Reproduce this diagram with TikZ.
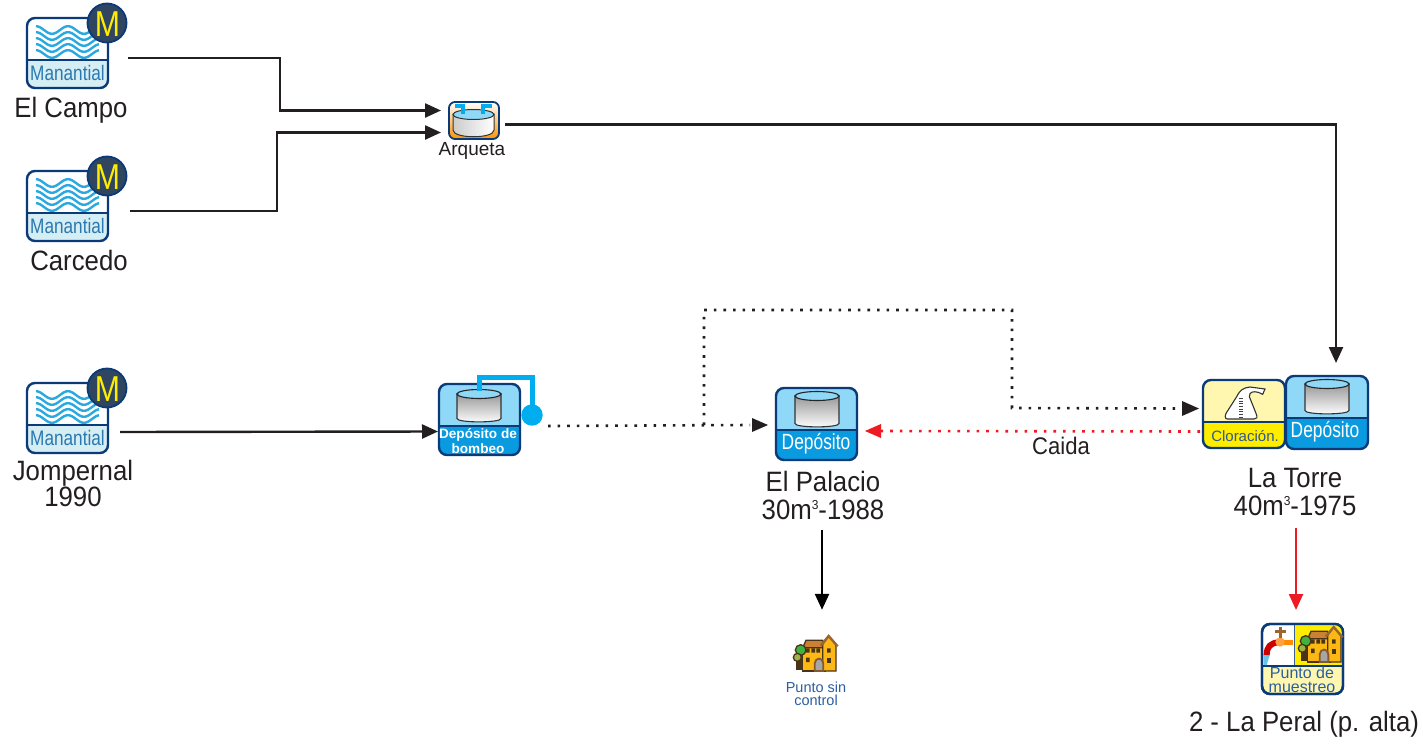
\documentclass[tikz,border=0pt]{standalone}
\usepackage{fontspec}
\usepackage{graphicx}
\setmainfont{Liberation Sans}
\newfontfamily\nf[FakeStretch=0.92]{Liberation Sans}
\usetikzlibrary{arrows.meta}
\definecolor{navy}{HTML}{0B3A78}
\definecolor{wave}{HTML}{2AA9E0}
\definecolor{lowcyan}{HTML}{D5EEF3}
\definecolor{manblue}{HTML}{2B78B0}
\definecolor{skyb}{HTML}{8FD8F8}
\definecolor{depb}{HTML}{0A9ADF}
\definecolor{pipe}{HTML}{00AEEF}
\definecolor{txt}{HTML}{231F20}
\definecolor{redl}{HTML}{ED1C24}
\definecolor{ptblue}{HTML}{2B5FA0}
\definecolor{clortop}{HTML}{FFF7B0}
\definecolor{clorbot}{HTML}{FFED00}
\definecolor{houseyel}{HTML}{FDB813}
\definecolor{houseline}{HTML}{4A3418}
\definecolor{mdisc}{HTML}{2F4560}
\newcommand{\fs}[1]{\fontsize{#1}{#1}\selectfont}
\newcommand{\supthree}{\raisebox{10pt}{\fs{13}3}}
\tikzset{
  x=1pt,y=-1pt,
  conn/.style={line width=2.4pt,txt,-{Triangle[length=16pt,width=14pt]}},
  dotline/.style={line width=2.6pt,txt,dash pattern=on 2.6pt off 7pt},
  lbl/.style={text=txt,inner sep=0pt,align=center,font=\nf\fs{28}},
  iconb/.style={draw=navy,line width=2.4pt,rounded corners=8pt,inner sep=0pt,outer sep=0pt},
}
% name x1 y1 x2 y2 divider topcolour bottomcolour
\newcommand{\iconbox}[8]{%
  \begin{scope}
    \clip[rounded corners=8pt] (#2,#3) rectangle (#4,#5);
    \fill[#7] (#2,#3) rectangle (#4,#6);
    \fill[#8] (#2,#6) rectangle (#4,#5);
  \end{scope}
  \draw[navy,line width=2pt] (#2,#6) -- (#4,#6);
  \node[iconb,minimum width={(#4-#2)*1pt},minimum height={(#5-#3)*1pt}] (#1) at ({(#2+#4)/2},{(#3+#5)/2}) {};
}
% cx top bottom rx ry
\newcommand{\cyl}[5]{%
  \path[draw=black!80,line width=1.1pt,top color=black!40,bottom color=white]
    (#1-#4,#2) -- (#1-#4,#3-#5) .. controls (#1-#4,#3) and (#1+#4,#3) .. (#1+#4,#3-#5) -- (#1+#4,#2) -- cycle;
  \draw[black!85,line width=1.1pt,fill=skyb] (#1,#2) ellipse [x radius=#4,y radius=#5];
}
\newcommand{\manantial}[2]{%
  \begin{scope}[shift={(0,#2)}]
    \iconbox{#1}{27}{18}{108}{88}{60}{white}{lowcyan}
    \foreach \yy in {30,36,42,48,54}
      \draw[wave,line width=2.4pt] plot[domain=36:99,samples=50,smooth] (\x,{\yy-3.8*sin((\x-28)*11.25)});
    \node[inner sep=0pt,text=manblue] at (67.5,72.5) {\fs{21}\scalebox{0.82}[1]{Manantial}};
    \draw[navy,line width=1.8pt,fill=mdisc] (107,23) circle (19.5);
    \node[inner sep=0pt,text=clorbot] at (107.5,24) {\fs{36}\scalebox{0.84}[1]{M}};
  \end{scope}
}
% origin x, origin y, scale
\newcommand{\houseicon}[3]{%
  \begin{scope}[shift={(#1,#2)},scale=#3,line width=1.3pt,draw=houseline]
    \filldraw[fill=houseyel] (98,68) rectangle (165,138);
    \filldraw[fill=brown!80!orange] (98,68) -- (108,46) -- (158,46) -- (165,68) -- cycle;
    \filldraw[fill=houseyel] (158,138) -- (158,58) -- (176,33) -- (198,60) -- (198,138) -- cycle;
    \draw[brown!80!black,line width=2.4pt] (152,62) -- (176,33) -- (203,64);
    \fill[houseline] (108,70) rectangle (119,83) (124,70) rectangle (135,83) (139,70) rectangle (150,83) (108,98) rectangle (119,111) (171,70) rectangle (182,83);
    \fill[houseline] (171,98) rectangle (184,113);
    \filldraw[fill=black!35,draw=brown!70!black,line width=1.8pt] (134,138) -- (134,115) .. controls (136,96) and (158,96) .. (160,115) -- (160,138) -- cycle;
    \draw[houseline,line width=2.5pt] (92,85) -- (92,135) (82,105) -- (82,135);
    \filldraw[fill=green!60!black!75] (92,75) circle (16);
    \filldraw[fill=olive!70!green!70] (82,97) circle (12);
  \end{scope}
}
\begin{document}
\begin{tikzpicture}
\useasboundingbox (0,0) rectangle (1423,744);
\fill[white] (0,0) rectangle (1423,744);

% springs
\manantial{manA}{0}
\manantial{manB}{153}
\manantial{manC}{365}
\node[lbl] (labA) at (71,110) {El Campo};
\node[lbl] (labB) at (79,260) {Carcedo};
\node[lbl] (labC) at (73,483) {Jompernal\\[-2pt]1990};

% arqueta
\begin{scope}
  \clip[rounded corners=6pt] (449,102) rectangle (499,139);
  \shade[top color=white,bottom color=orange!85!yellow] (449,102) rectangle (499,139);
\end{scope}
\node[iconb,rounded corners=6pt,minimum width=50pt,minimum height=37pt,line width=1.8pt] (arq) at (474,120.5) {};
\draw[black!80,line width=1pt,left color=black!20,right color=white] (453,114) -- (453,130) .. controls (453,139) and (494,139) .. (494,130) -- (494,114) -- cycle;
\draw[black!80,line width=1pt,fill=skyb] (473.5,114.5) ellipse [x radius=20.5,y radius=5];
\draw[pipe,line width=3.2pt] (455,106) -- (463,106) -- (463,114) (492,106) -- (483,106) -- (483,114);
\node[inner sep=0pt,text=txt] (labArq) at (472,151) {\fs{19}Arqueta};

% pumping tank
\iconbox{bomb}{439}{384}{520}{455}{426}{skyb}{depb}
\cyl{479}{394}{423}{22}{4.5}
\draw[pipe,line width=5pt] (479.5,391) -- (479.5,377) -- (532,377) -- (532,410);
\fill[pipe] (532,415) circle (10.7);
\node[inner sep=0pt,text=white,align=center,font=\bfseries\fs{13.6}] (labBomb) at (478,441) {Depósito de\\[2pt]bombeo};

% El Palacio tank
\iconbox{pal}{776}{388}{857}{460}{430}{skyb}{depb}
\cyl{817}{396}{428}{22}{4.5}
\node[inner sep=0pt,text=white] at (816,444) {\fs{22}\scalebox{0.79}[1]{Depósito}};
\node[lbl] (labPal) at (823,495) {El Palacio\\[0pt]30m\supthree-1988};

% La Torre
\iconbox{clor}{1203}{380}{1285}{448}{422}{clortop}{clorbot}
\begin{scope}[shift={(1190,365)},scale=1/3]
  \draw[black!80,line width=1.1pt,fill=white] (112,162) .. controls (104,162) and (104,150) .. (110,142) -- (140,95) .. controls (150,75) and (160,68) .. (180,66) -- (225,72) -- (218,88) -- (205,82) .. controls (190,78) and (178,80) .. (178,95) -- (198,145) .. controls (204,158) and (200,162) .. (192,162) -- cycle;
  \foreach \yy in {100,108,...,156}
    \draw[black!75,line width=1pt] (147,\yy) -- (158,\yy);
\end{scope}
\node[inner sep=0pt,text=navy!85!white] at (1245,436) {\fs{15}Cloración.};
\iconbox{depT}{1286}{376}{1368}{449}{418}{skyb}{depb}
\cyl{1327}{384}{415}{22}{4.5}
\node[inner sep=0pt,text=white] at (1325,432) {\fs{22}\scalebox{0.79}[1]{Depósito}};
\node[lbl] (labTor) at (1295,492) {La Torre\\[0pt]40m\supthree-1975};

% Punto sin control
\node[inner sep=0pt,minimum width=44pt,minimum height=36pt] (psc) at (816,654) {};
\houseicon{770}{625}{1/3}
\node[inner sep=0pt,text=ptblue,align=center,font=\fs{14.5}] (labPsc) at (816,694) {Punto sin\\[-2pt]control};

% Punto de muestreo
\iconbox{mue}{1262}{624}{1343}{694}{666}{white}{clortop}
\begin{scope}
  \clip[rounded corners=8pt] (1262,624) rectangle (1343,694);
  \fill[clorbot] (1294,624) rectangle (1343,666);
\end{scope}
\draw[navy!80,line width=1pt] (1294,624) -- (1294,666);
\draw[navy,line width=2pt] (1262,666) -- (1343,666);
\draw[navy,line width=2.4pt,rounded corners=8pt] (1262,624) rectangle (1343,694);
\begin{scope}[shift={(1250,615)},scale=1/3]
  \fill[wave!70] (40,118) -- (60,118) -- (50,150) -- (42,150) -- cycle;
  \draw[red!80!black,line width=6pt] (50,120) .. controls (50,95) and (62,84) .. (85,82);
  \draw[orange!90!yellow,line width=5.5pt] (85,82) -- (128,82);
  \fill[orange!75!white] (90,81) circle (14);
  \draw[brown!80!black,line width=2.8pt] (92,36) -- (92,68) (76,50) -- (108,50);
\end{scope}
\houseicon{1275}{616}{1/3}
\node[inner sep=0pt,text=ptblue,align=center,font=\fs{16}] (labMue) at (1302,680) {Punto de\\[-2pt]muestreo};

\node[lbl] (labPer) at (1304,724) {2 - La Peral (p. alta)};
\node[lbl,font=\nf\fs{24}] (labCai) at (1061,446) {Caida};

% connectors
\draw[conn] ([shift={(20,5)}]manA.east) -- ++(152,0) |- ([shift={(-8,-10)}]arq.west);
\draw[conn] ([shift={(22,5)}]manB.east) -- ++(147,0) |- ([shift={(-8,12)}]arq.west);
\draw[conn] ([shift={(6,4)}]arq.east) -| ([shift={(9,-13)}]depT.north);
\draw[conn] ([shift={(12,14)}]manC.east) -- ([shift={(-1,12)}]bomb.west);
\draw[dotline] ([shift={(28,6.5)}]bomb.east) -- ([shift={(-26,1)}]pal.west);
\fill[txt] ([shift={(-24,-6)}]pal.west) -- ([shift={(-8,1)}]pal.west) -- ([shift={(-24,8)}]pal.west) -- cycle;
\coordinate (branch) at (704,425);
\draw[dotline] (branch) -- ++(0,-115) -- ++(308,0) -- ++(0,98) -- ([shift={(-21,-5.5)}]clor.west);
\fill[txt] ([shift={(-21,-13)}]clor.west) -- ([shift={(-4,-5.5)}]clor.west) -- ([shift={(-21,2)}]clor.west) -- cycle;
\draw[dotline,redl] ([shift={(-3,17.5)}]clor.west) -- ([shift={(24,7)}]pal.east);
\fill[redl] ([shift={(24,0)}]pal.east) -- ([shift={(8,7)}]pal.east) -- ([shift={(24,14)}]pal.east) -- cycle;
\draw[conn,black] (labPal.south -| psc.north) ++(6,11) -- ([shift={(6,-26)}]psc.north);
\draw[conn,redl] (labTor.south -| mue.north) ++(-6.5,12) -- ([shift={(-6.5,-14)}]mue.north);
\end{tikzpicture}
\end{document}
